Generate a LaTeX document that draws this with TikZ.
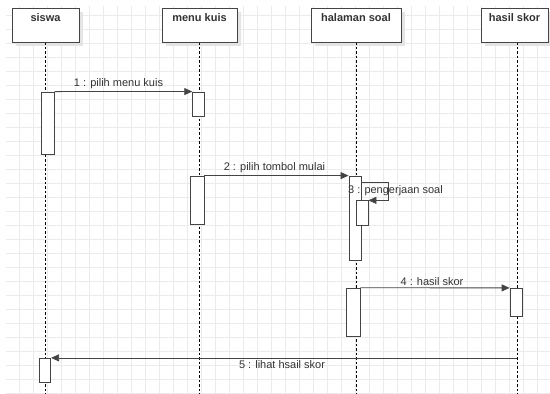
\documentclass[tikz,border=0pt]{standalone}
\usepackage{fontspec}
\setmainfont{Liberation Sans}
\usetikzlibrary{arrows.meta}
\definecolor{txt}{HTML}{333333}
\definecolor{ln}{HTML}{444444}
\definecolor{gridc}{HTML}{EBEBEB}
\definecolor{shad}{HTML}{E4E4E4}
\tikzset{
  head/.style={draw=ln, line width=0.9pt, fill=white, minimum height=34pt, inner sep=0pt},
  headtxt/.style={font=\fontsize{11}{13}\selectfont\bfseries, text=txt, anchor=north, inner sep=0pt},
  actbox/.style={draw=ln, line width=0.8pt, fill=white, inner sep=0pt},
  life/.style={draw=black, line width=0.8pt, dash pattern=on 2.5pt off 2pt},
  msg/.style={draw=ln, line width=0.8pt, -{Triangle[length=8pt,width=7pt]}},
  msgtxt/.style={font=\fontsize{11}{13}\selectfont, text=txt, inner sep=1pt},
}
\begin{document}
\begin{tikzpicture}[x=1pt,y=-1pt]
\useasboundingbox (0,0) rectangle (550,394);
\fill[white] (0,0) rectangle (550,394);
% grid
\begin{scope}
\clip (6,6) rectangle (550,394);
\foreach \i in {0,...,39} { \draw[gridc, line width=0.5pt] ({5.3+14*\i},0) -- ({5.3+14*\i},394); }
\foreach \j in {0,...,28} { \draw[gridc, line width=0.5pt] (0,{1.5+14*\j}) -- (550,{1.5+14*\j}); }
\end{scope}
% shadows
\foreach \a/\b in {12/79,162/237,311/401,481/548} {
  \fill[shad] (\a+4,12) rectangle (\b+4,46);
}
% lifeline coordinates
\coordinate (L1) at (45.5,42);
\coordinate (L2) at (199.5,42);
\coordinate (L3) at (356.5,42);
\coordinate (L4) at (517,42);
\coordinate (L1e) at (45.5,394);
\coordinate (L2e) at (199.5,394);
\coordinate (L3e) at (356.5,394);
\coordinate (L4e) at (517,394);
\draw[life] (L1) -- (L1e);
\draw[life] (L2) -- (L2e);
\draw[life] (L3) -- (L3e);
\draw[life] (L4) -- (L4e);
% headers
\node[head, minimum width=67pt] (siswa) at (45.5,25) {};
\node[headtxt] (tsiswa) at (45.5,13.5) {siswa};
\node[head, minimum width=75pt] (menu) at (199.5,25) {};
\node[headtxt] (tmenu) at (199.5,13.5) {menu kuis};
\node[head, minimum width=90pt] (hal) at (356,25) {};
\node[headtxt] (thal) at (356,13.5) {halaman soal};
\node[head, minimum width=67pt] (has) at (514.5,25) {};
\node[headtxt] (thas) at (514.5,13.5) {hasil skor};
% activations
\node[actbox, minimum width=13pt, minimum height=62pt] (a1) at (47.8,123) {};
\node[actbox, minimum width=11.6pt, minimum height=24.7pt] (m1) at (198.5,104.3) {};
\node[actbox, minimum width=14pt, minimum height=48pt] (m2) at (197,200) {};
\node[actbox, minimum width=12.7pt, minimum height=84pt] (h1) at (355.3,218) {};
\node[actbox, minimum width=12pt, minimum height=24.3pt] (h2) at (362,212.9) {};
\node[actbox, minimum width=14pt, minimum height=48pt] (h3) at (353,312.2) {};
\node[actbox, minimum width=12pt, minimum height=28.4pt] (r1) at (516,302.5) {};
\node[actbox, minimum width=11.7pt, minimum height=24.4pt] (s3) at (44.8,370.5) {};
% messages
\draw[msg] (a1.north east) -- node[msgtxt, above=1pt, xshift=-5pt] (t1) {1 : pilih menu kuis} (m1.north west);
\draw[msg] (m2.north east) -- node[msgtxt, above=1pt, xshift=-2pt] (t2) {2 : pilih tombol mulai} (h1.north west);
\draw[msg] (h1.north east |- 0,182.7) -- (388,182.7) |- (h2.north east);
\node[msgtxt] (t3) at (395.5,190.5) {3 : pengerjaan soal};
\draw[msg] (h3.north east) -- node[msgtxt, above=1pt, xshift=-3pt] (t4) {4 : hasil skor} (r1.north west);
\coordinate (m5s) at (L4 |- s3.north);
\draw[msg] (m5s) -- node[msgtxt, below=1pt, xshift=-2pt] (t5) {5 : lihat hsail skor} (s3.north east);
\end{tikzpicture}
\end{document}
